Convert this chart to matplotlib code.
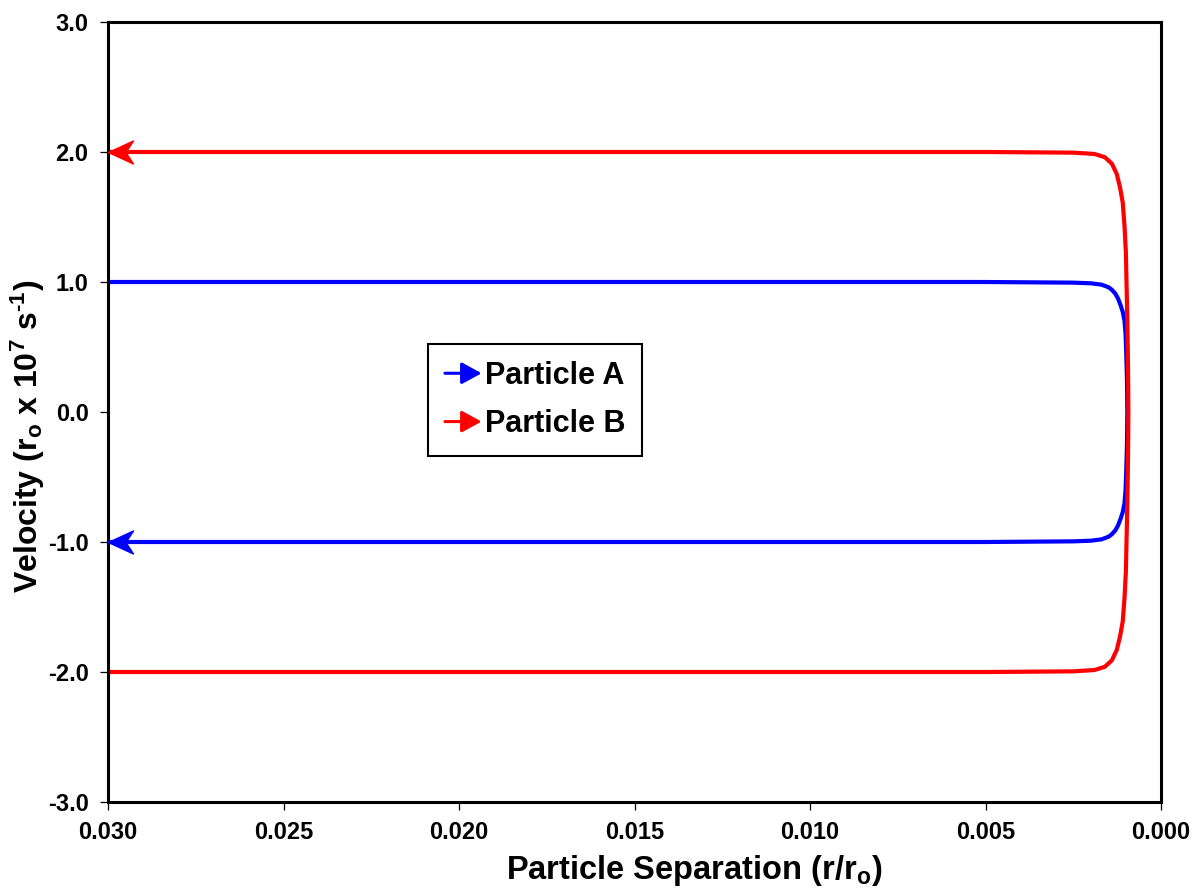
import numpy as np
import matplotlib
matplotlib.use("Agg")
import matplotlib.pyplot as plt
from matplotlib.path import Path
from matplotlib.patches import FancyArrowPatch
from matplotlib.legend_handler import HandlerBase

plt.rcParams["font.family"] = ["Liberation Sans", "DejaVu Sans"]
plt.rcParams["font.weight"] = "bold"
plt.rcParams["mathtext.fontset"] = "custom"
plt.rcParams["mathtext.rm"] = "Liberation Sans:bold"
plt.rcParams["mathtext.it"] = "Liberation Sans:bold"
plt.rcParams["mathtext.bf"] = "Liberation Sans:bold"
plt.rcParams["axes.unicode_minus"] = False

# Particle A: approaches at +1.0, turns near r ~ 0.001, leaves at -1.0
SEP_A = [0.0300, 0.0050, 0.0025, 0.0020, 0.0017, 0.0015, 0.0014, 0.0013,
         0.00122, 0.00115, 0.00109, 0.00104, 0.00101, 0.00099, 0.00097,
         0.00096,
         0.00097, 0.00099, 0.00101, 0.00104, 0.00109, 0.00115, 0.00122,
         0.0013, 0.0014, 0.0015, 0.0017, 0.0020, 0.0025, 0.0050, 0.0300]
VEL_A = [1.000, 1.000, 0.995, 0.990, 0.980, 0.960, 0.940, 0.910,
         0.870, 0.820, 0.770, 0.700, 0.600, 0.450, 0.250,
         0.000,
         -0.250, -0.450, -0.600, -0.700, -0.770, -0.820, -0.870,
         -0.910, -0.940, -0.960, -0.980, -0.990, -0.995, -1.000, -1.000]

# Particle B: approaches at -2.0, turns, leaves at +2.0
SEP_B = [0.0300, 0.0050, 0.0025, 0.0019, 0.0016, 0.0014, 0.00126, 0.00117,
         0.00109, 0.00104, 0.00100, 0.00098, 0.00096, 0.00094,
         0.00093,
         0.00094, 0.00096, 0.00098, 0.00100, 0.00104, 0.00109, 0.00117,
         0.00126, 0.0014, 0.0016, 0.0019, 0.0025, 0.0050, 0.0300]
VEL_B = [-2.000, -2.000, -1.995, -1.985, -1.960, -1.910, -1.830, -1.730,
         -1.610, -1.430, -1.220, -0.960, -0.710, -0.350,
         0.000,
         0.350, 0.710, 0.960, 1.220, 1.430, 1.610, 1.730,
         1.830, 1.910, 1.960, 1.985, 1.995, 2.000, 2.000]

X_TICKS = [0.030, 0.025, 0.020, 0.015, 0.010, 0.005, 0.000]
Y_TICKS = [-3.0, -2.0, -1.0, 0.0, 1.0, 2.0, 3.0]

BLUE = "#0000FF"
RED = "#FF0000"

# stealth arrowhead, tip at origin, body extending to +x
STEALTH = Path([(0, 0), (1.0, 0.46), (0.7, 0), (1.0, -0.46), (0, 0)],
               [Path.MOVETO, Path.LINETO, Path.LINETO, Path.LINETO, Path.CLOSEPOLY])


class ArrowHandler(HandlerBase):
    def create_artists(self, legend, orig_handle, xdescent, ydescent,
                       width, height, fontsize, trans):
        y = height / 2 - ydescent
        arr = FancyArrowPatch((-xdescent, y), (-xdescent + width, y),
                              arrowstyle="-|>,head_length=0.55,head_width=0.3",
                              mutation_scale=fontsize, color=orig_handle.get_color(),
                              lw=2.2, transform=trans, shrinkA=0, shrinkB=0)
        return [arr]


fig = plt.figure(figsize=(12.04, 8.94), dpi=100)
ax = fig.add_axes([0.0897, 0.1029, 0.8746, 0.8725])

la, = ax.plot(SEP_A, VEL_A, color=BLUE, lw=3, solid_joinstyle="round")
lb, = ax.plot(SEP_B, VEL_B, color=RED, lw=3, solid_joinstyle="round")
ax.plot(SEP_A[-1], VEL_A[-1], marker=STEALTH, markersize=36, color=BLUE,
        clip_on=False, zorder=4)
ax.plot(SEP_B[-1], VEL_B[-1], marker=STEALTH, markersize=36, color=RED,
        clip_on=False, zorder=4)

ax.set_xlim(0.030, 0.000)
ax.set_ylim(-3.0, 3.0)
ax.set_xticks(X_TICKS)
ax.set_yticks(Y_TICKS)
ax.set_xticklabels([f"{t:.3f}" for t in X_TICKS])
ax.set_yticklabels([f"{t:.1f}" for t in Y_TICKS])
ax.tick_params(axis="both", direction="out", length=6, width=0.9,
               labelsize=17, pad=8)
ax.tick_params(top=False, right=False)
for sp in ax.spines.values():
    sp.set_linewidth(2.2)
    sp.set_color("black")

ax.set_xlabel(r"Particle Separation (r/r$_\mathrm{o}$)", fontsize=23.5,
              fontweight="bold")
ax.set_ylabel(r"Velocity (r$_\mathrm{o}$ x 10$^\mathrm{7}$ s$^{\text{-1}}$)",
              fontsize=23, fontweight="bold")
ax.xaxis.set_label_coords(0.557, -0.066)
ax.yaxis.set_label_coords(-0.058, 0.469)

leg = ax.legend([la, lb], ["Particle A", "Particle B"],
                handler_map={la: ArrowHandler(), lb: ArrowHandler()},
                loc="upper left", bbox_to_anchor=(0.304, 0.587),
                borderaxespad=0, fontsize=22, frameon=True, fancybox=False,
                framealpha=1, edgecolor="black", handlelength=1.2,
                handletextpad=0.1, labelspacing=0.6, borderpad=0.55)
leg.get_frame().set_linewidth(1.5)

fig.savefig("out.png", dpi=100)
